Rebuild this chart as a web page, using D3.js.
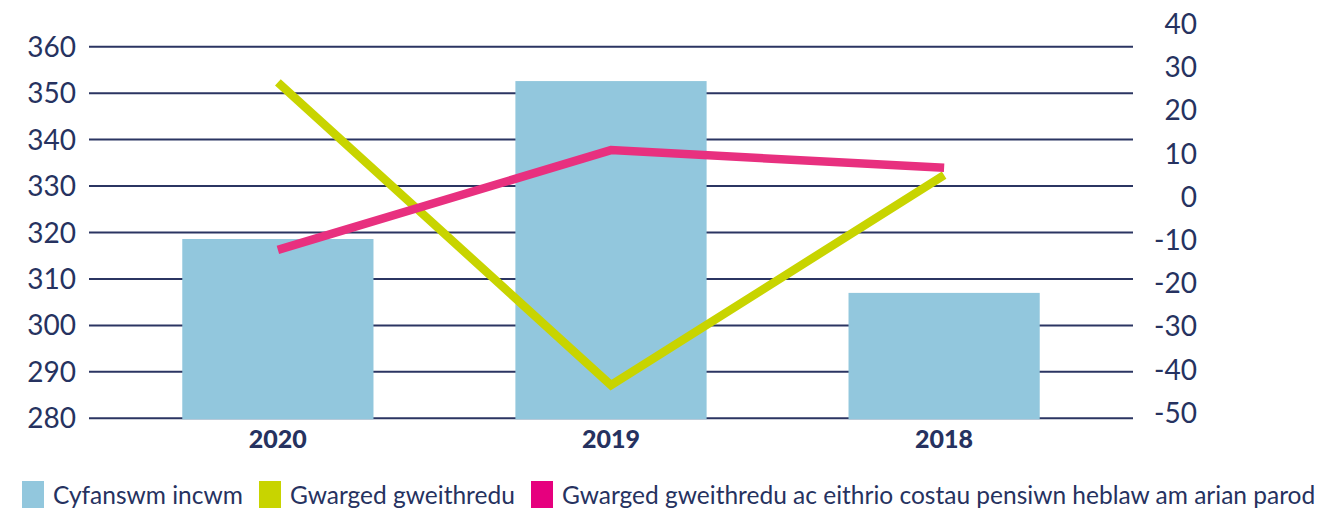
<!DOCTYPE html>
<html>
<head>
<meta charset="utf-8">
<script src="https://cdn.jsdelivr.net/npm/d3@7"></script>
<style>
  body { margin: 0; background: #fff; }
  svg text { font-family: Lato, "Open Sans", sans-serif; fill: #263260; }
</style>
</head>
<body>
<div id="chart"></div>
<script>
// data
const years = ['2020', '2019', '2018'];
const totalIncome = [318.6, 352.6, 307.0];          // Cyfanswm incwm (left axis)
const operatingSurplus = [26.5, -43.6, 5.0];        // Gwarged gweithredu (right axis)
const surplusExPension = [-12.3, 10.8, 6.7];        // ... ac eithrio costau pensiwn (right axis)
const leftTicks = [280, 290, 300, 310, 320, 330, 340, 350, 360];
const rightTicks = [-50, -40, -30, -20, -10, 0, 10, 20, 30, 40];
const legendLabels = [
  'Cyfanswm incwm',
  'Gwarged gweithredu',
  'Gwarged gweithredu ac eithrio costau pensiwn heblaw am arian parod'
];

const width = 1322, height = 511;
const colors = { bar: '#92c7dd', green: '#c8d400', pink: '#e8307f', pinkKey: '#e6007e' };

const svg = d3.select('#chart')
  .append('svg')
  .attr('width', width)
  .attr('height', height);

const x = d3.scaleBand()
  .domain(years)
  .range([89, 1133])
  .paddingInner(0.426)
  .paddingOuter(0.28);

const yLeft = d3.scaleLinear()
  .domain([280, 360])
  .range([418.3, 46.7]);

const yRight = d3.scaleLinear()
  .domain([-50, 40])
  .range([412.7, 24]);

// gridlines
svg.append('g')
  .selectAll('line')
  .data(leftTicks)
  .join('line')
  .attr('x1', 89)
  .attr('x2', 1133)
  .attr('y1', d => yLeft(d))
  .attr('y2', d => yLeft(d))
  .attr('stroke', '#2b3562')
  .attr('stroke-width', 2);

// left axis labels
svg.append('g')
  .selectAll('text')
  .data(leftTicks)
  .join('text')
  .attr('x', 76)
  .attr('y', d => yLeft(d))
  .attr('dy', '0.36em')
  .attr('text-anchor', 'end')
  .style('font-size', '28px')
  .text(d => d);

// right axis labels
svg.append('g')
  .selectAll('text')
  .data(rightTicks)
  .join('text')
  .attr('x', 1197)
  .attr('y', d => yRight(d))
  .attr('dy', '0.36em')
  .attr('text-anchor', 'end')
  .style('font-size', '28px')
  .text(d => d);

// bars
svg.append('g')
  .selectAll('rect')
  .data(years)
  .join('rect')
  .attr('x', d => x(d))
  .attr('width', x.bandwidth())
  .attr('y', (d, i) => yLeft(totalIncome[i]))
  .attr('height', (d, i) => yLeft(280) - yLeft(totalIncome[i]) + 1)
  .attr('fill', colors.bar);

// year labels
svg.append('g')
  .selectAll('text')
  .data(years)
  .join('text')
  .attr('x', d => x(d) + x.bandwidth() / 2)
  .attr('y', 448)
  .attr('text-anchor', 'middle')
  .style('font-size', '25px')
  .style('font-weight', 900)
  .text(d => d);

// lines
const line = d3.line()
  .x(d => x(d.year) + x.bandwidth() / 2)
  .y(d => yRight(d.value));

const lineSeries = [
  { values: operatingSurplus, color: colors.green },
  { values: surplusExPension, color: colors.pink }
];

svg.append('g')
  .selectAll('path')
  .data(lineSeries)
  .join('path')
  .attr('d', s => line(years.map((y, i) => ({ year: y, value: s.values[i] }))))
  .attr('fill', 'none')
  .attr('stroke', s => s.color)
  .attr('stroke-width', 8.5);

// legend
const legendX = [22, 259, 531];
const keyColors = [colors.bar, colors.green, colors.pinkKey];
const legend = svg.append('g')
  .selectAll('g')
  .data(legendLabels)
  .join('g')
  .attr('transform', (d, i) => `translate(${legendX[i]},481)`);

legend.append('rect')
  .attr('width', 22)
  .attr('height', 27)
  .attr('fill', (d, i) => keyColors[i]);

legend.append('text')
  .attr('x', 31)
  .attr('y', 14)
  .attr('dy', '0.36em')
  .style('font-size', '24.5px')
  .text(d => d);
</script>
</body>
</html>
